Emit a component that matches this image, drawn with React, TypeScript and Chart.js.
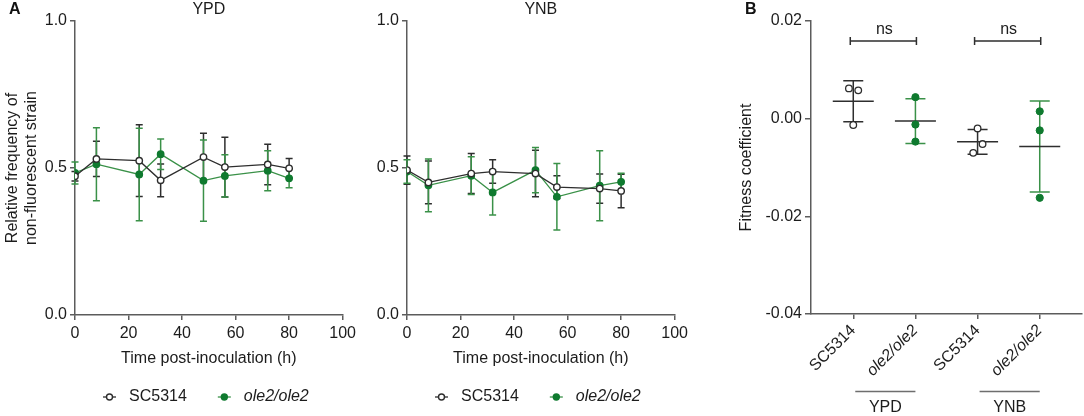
import React, { useEffect, useRef } from 'react';
import { Chart, registerables } from 'chart.js';

Chart.register(...registerables);

const FONT = "'Liberation Sans', Arial, Helvetica, sans-serif";
const TEXT = '#1c1c1c';
const AXIS = '#5c5c5c';
const DARK = '#2e2e2e';
const GREEN = '#3a9148';
const GREEN_DOT = '#0f7a2f';

Chart.defaults.font.family = FONT;
Chart.defaults.color = TEXT;

// Panel A: time course (hours post-inoculation)
const hours = [0, 8, 24, 32, 48, 56, 72, 80];

const ypdWtMean = [0.472, 0.531, 0.525, 0.458, 0.537, 0.503, 0.512, 0.499];
const ypdWtSd = [0.016, 0.06, 0.122, 0.056, 0.081, 0.102, 0.069, 0.033];
const ypdKoMean = [0.483, 0.513, 0.478, 0.547, 0.457, 0.473, 0.491, 0.465];
const ypdKoSd = [0.037, 0.124, 0.157, 0.052, 0.138, 0.072, 0.068, 0.032];

const ynbWtMean = [0.493, 0.451, 0.481, 0.488, 0.481, 0.435, 0.43, 0.422];
const ynbWtSd = [0.048, 0.073, 0.068, 0.04, 0.079, 0.039, 0.05, 0.057];
const ynbKoMean = [0.488, 0.441, 0.474, 0.417, 0.493, 0.402, 0.44, 0.453];
const ynbKoSd = [0.04, 0.09, 0.064, 0.077, 0.077, 0.113, 0.119, 0.029];

// Panel B: fitness coefficients (3 replicates each)
const strainLabels = ['SC5314', 'ole2/ole2', 'SC5314', 'ole2/ole2'];
const mediumLabels = ['YPD', 'YNB'];
const ypdWtFitness = [0.0062, 0.0058, -0.0013];
const ypdKoFitness = [0.0044, -0.0012, -0.0047];
const ynbWtFitness = [-0.002, -0.0052, -0.007];
const ynbKoFitness = [0.0015, -0.0024, -0.0162];
// horizontal scatter of the open circles, in category units
const ypdWtJitter = [-0.07, 0.08, 0];
const ynbWtJitter = [0, 0.08, -0.07];

const mean = (a: number[]) => a.reduce((s, v) => s + v, 0) / a.length;
const sd = (a: number[]) => {
  const m = mean(a);
  return Math.sqrt(a.reduce((s, v) => s + (v - m) ** 2, 0) / (a.length - 1));
};

// error bars for any dataset carrying `errors`
const errorBars = {
  id: 'errorBars',
  beforeDatasetsDraw(chart: any) {
    const { ctx } = chart;
    const yScale = chart.scales.y;
    chart.data.datasets.forEach((ds: any, i: number) => {
      if (!ds.errors) return;
      const meta = chart.getDatasetMeta(i);
      ctx.save();
      ctx.strokeStyle = ds.errorColor;
      ctx.lineWidth = 1.5;
      meta.data.forEach((pt: any, j: number) => {
        const v = ds.data[j].y;
        const e = ds.errors[j];
        const top = yScale.getPixelForValue(v + e);
        const bot = yScale.getPixelForValue(v - e);
        const c = ds.capHalf;
        ctx.beginPath();
        ctx.moveTo(pt.x, top);
        ctx.lineTo(pt.x, bot);
        ctx.moveTo(pt.x - c, top);
        ctx.lineTo(pt.x + c, top);
        ctx.moveTo(pt.x - c, bot);
        ctx.lineTo(pt.x + c, bot);
        ctx.stroke();
      });
      ctx.restore();
    });
  },
};

// heading above the plot and the line+marker legend below it
const timeDecor = {
  id: 'timeDecor',
  afterDraw(chart: any, _args: any, opts: any) {
    const { ctx, chartArea } = chart;
    ctx.save();
    ctx.fillStyle = TEXT;
    ctx.font = `16px ${FONT}`;
    ctx.textAlign = 'center';
    ctx.textBaseline = 'middle';
    ctx.fillText(opts.heading, (chartArea.left + chartArea.right) / 2, 10);

    let x = chartArea.left + 28;
    const y = 397;
    ctx.textAlign = 'left';
    chart.data.datasets.forEach((ds: any) => {
      ctx.strokeStyle = ds.borderColor;
      ctx.lineWidth = 1.3;
      ctx.beginPath();
      ctx.moveTo(x, y);
      ctx.lineTo(x + 13, y);
      ctx.stroke();
      ctx.beginPath();
      ctx.arc(x + 6.5, y, 3, 0, Math.PI * 2);
      ctx.fillStyle = ds.pointBackgroundColor;
      ctx.fill();
      ctx.lineWidth = 1.4;
      ctx.strokeStyle = ds.pointBorderColor;
      ctx.stroke();
      ctx.fillStyle = TEXT;
      ctx.font = `${ds.italic ? 'italic ' : ''}16px ${FONT}`;
      ctx.fillText(ds.label, x + 26, y);
      x += 26 + ctx.measureText(ds.label).width + 31;
    });
    ctx.restore();
  },
};

// "ns" brackets and the medium grouping under the category labels
const fitnessDecor = {
  id: 'fitnessDecor',
  afterDraw(chart: any) {
    const { ctx, chartArea } = chart;
    const xs = chart.scales.x;
    const ys = chart.scales.y;
    ctx.save();
    ctx.font = `16px ${FONT}`;
    ctx.textAlign = 'center';
    ctx.textBaseline = 'middle';
    mediumLabels.forEach((label, g) => {
      const x0 = xs.getPixelForValue(g * 2);
      const x1 = xs.getPixelForValue(g * 2 + 1);
      // bracket
      const by = ys.getPixelForValue(0.0159);
      ctx.strokeStyle = DARK;
      ctx.lineWidth = 1.5;
      ctx.beginPath();
      ctx.moveTo(x0 - 3, by);
      ctx.lineTo(x1 + 1, by);
      ctx.moveTo(x0 - 3, by - 4);
      ctx.lineTo(x0 - 3, by + 4);
      ctx.moveTo(x1 + 1, by - 4);
      ctx.lineTo(x1 + 1, by + 4);
      ctx.stroke();
      ctx.fillStyle = TEXT;
      ctx.fillText('ns', (x0 + x1) / 2, by - 11);
      // group line + medium name
      const gy = chartArea.bottom + 77.5;
      ctx.strokeStyle = '#6e6e6e';
      ctx.beginPath();
      ctx.moveTo(x0 + 2, gy);
      ctx.lineTo(x1, gy);
      ctx.stroke();
      ctx.fillText(label, (x0 + x1) / 2 + 1, gy + 16);
    });
    ctx.restore();
  },
};

const axisBase = {
  border: { color: AXIS, width: 1.5 },
  grid: { drawOnChartArea: false, drawTicks: true, tickLength: 5, color: AXIS, lineWidth: 1.5 },
};

function TimeCourse(props: {
  heading: string;
  wtMean: number[];
  wtSd: number[];
  koMean: number[];
  koSd: number[];
  yTitle: boolean;
}) {
  const ref = useRef<HTMLCanvasElement>(null);
  useEffect(() => {
    if (!ref.current) return;
    const chart = new Chart(ref.current, {
      type: 'line',
      data: {
        datasets: [
          {
            label: 'SC5314',
            data: hours.map((h, i) => ({ x: h, y: props.wtMean[i] })),
            errors: props.wtSd,
            errorColor: DARK,
            capHalf: 3.5,
            borderColor: DARK,
            borderWidth: 1.3,
            pointRadius: 3.2,
            pointBorderWidth: 1.4,
            pointBackgroundColor: '#ffffff',
            pointBorderColor: DARK,
          } as any,
          {
            label: 'ole2/ole2',
            italic: true,
            data: hours.map((h, i) => ({ x: h, y: props.koMean[i] })),
            errors: props.koSd,
            errorColor: GREEN,
            capHalf: 3.5,
            borderColor: GREEN,
            borderWidth: 1.3,
            pointRadius: 3.2,
            pointBorderWidth: 1.4,
            pointBackgroundColor: GREEN_DOT,
            pointBorderColor: GREEN_DOT,
          } as any,
        ],
      },
      options: {
        responsive: false,
        animation: false,
        events: [],
        layout: { padding: { top: 21, right: 16, bottom: 46, left: 0 }, autoPadding: false },
        plugins: {
          legend: { display: false },
          tooltip: { enabled: false },
          timeDecor: { heading: props.heading },
        } as any,
        scales: {
          x: {
            type: 'linear',
            min: 0,
            max: 100,
            ...axisBase,
            ticks: { stepSize: 20, padding: 4, color: TEXT, font: { size: 16 } },
            title: {
              display: true,
              text: 'Time post-inoculation (h)',
              color: TEXT,
              font: { size: 16 },
              padding: { top: 0, bottom: 2 },
            },
            afterFit: (s: any) => {
              s.height = 55;
            },
          },
          y: {
            min: 0,
            max: 1,
            ...axisBase,
            ticks: {
              stepSize: 0.5,
              padding: 3,
              color: TEXT,
              font: { size: 16 },
              callback: (v: any) => Number(v).toFixed(1),
            },
            title: {
              display: props.yTitle,
              text: ['Relative frequency of', 'non-fluorescent strain'],
              color: TEXT,
              font: { size: 16 },
              padding: { top: 3, bottom: 0 },
            },
            afterFit: (s: any) => {
              s.width = 75;
            },
          },
        } as any,
      },
      plugins: [errorBars, timeDecor],
    });
    return () => chart.destroy();
  }, []);
  return <canvas ref={ref} width={360} height={416} />;
}

function Fitness() {
  const ref = useRef<HTMLCanvasElement>(null);
  useEffect(() => {
    if (!ref.current) return;
    const wtPoints = [
      ...ypdWtFitness.map((y, i) => ({ x: 0 + ypdWtJitter[i], y })),
      ...ynbWtFitness.map((y, i) => ({ x: 2 + ynbWtJitter[i], y })),
    ];
    const koPoints = [
      ...ypdKoFitness.map((y) => ({ x: 1, y })),
      ...ynbKoFitness.map((y) => ({ x: 3, y })),
    ];
    const chart = new Chart(ref.current, {
      type: 'scatter',
      data: {
        datasets: [
          {
            label: 'SC5314',
            data: wtPoints,
            pointRadius: 3.3,
            pointBorderWidth: 1.3,
            pointBackgroundColor: '#ffffff',
            pointBorderColor: DARK,
          },
          {
            label: 'ole2/ole2',
            data: koPoints,
            pointRadius: 3.6,
            pointBorderWidth: 1,
            pointBackgroundColor: GREEN_DOT,
            pointBorderColor: GREEN_DOT,
          },
          {
            label: 'SC5314 mean',
            data: [
              { x: 0, y: mean(ypdWtFitness) },
              { x: 2, y: mean(ynbWtFitness) },
            ],
            errors: [sd(ypdWtFitness), sd(ynbWtFitness)],
            errorColor: DARK,
            capHalf: 10,
            pointStyle: 'line',
            pointRadius: 20.5,
            pointBorderWidth: 1.5,
            pointBorderColor: DARK,
          } as any,
          {
            label: 'ole2/ole2 mean',
            data: [
              { x: 1, y: mean(ypdKoFitness) },
              { x: 3, y: mean(ynbKoFitness) },
            ],
            errors: [sd(ypdKoFitness), sd(ynbKoFitness)],
            errorColor: GREEN,
            capHalf: 10,
            pointStyle: 'line',
            pointRadius: 20.5,
            pointBorderWidth: 1.5,
            pointBorderColor: DARK,
          } as any,
        ],
      },
      options: {
        responsive: false,
        animation: false,
        events: [],
        layout: { padding: { top: 21, right: 2, bottom: 0, left: 0 }, autoPadding: false },
        plugins: {
          legend: { display: false },
          tooltip: { enabled: false },
        },
        scales: {
          x: {
            type: 'linear',
            min: -0.68,
            max: 3.68,
            ...axisBase,
            afterBuildTicks: (s: any) => {
              s.ticks = strainLabels.map((_, i) => ({ value: i }));
            },
            ticks: {
              autoSkip: false,
              minRotation: 45,
              maxRotation: 45,
              padding: 2,
              color: TEXT,
              font: (c: any) => ({
                size: 16,
                style: c.tick && c.tick.value % 2 === 1 ? 'italic' : 'normal',
              }),
              callback: (v: any) => strainLabels[v],
            },
            afterFit: (s: any) => {
              s.height = 102;
            },
          },
          y: {
            min: -0.04,
            max: 0.02,
            ...axisBase,
            grid: { ...axisBase.grid, tickLength: 6 },
            ticks: {
              stepSize: 0.02,
              padding: 3,
              color: TEXT,
              font: { size: 16 },
              callback: (v: any) => (Math.abs(v) < 1e-9 ? '0.00' : Number(v).toFixed(2)),
            },
            title: {
              display: true,
              text: 'Fitness coefficient',
              color: TEXT,
              font: { size: 16 },
              padding: { top: 37, bottom: 0 },
            },
            afterFit: (s: any) => {
              s.width = 111;
            },
          },
        } as any,
      },
      plugins: [errorBars, fitnessDecor],
    });
    return () => chart.destroy();
  }, []);
  return <canvas ref={ref} width={384} height={416} />;
}

const panelLetter: React.CSSProperties = {
  position: 'absolute',
  top: 1,
  font: `bold 16px ${FONT}`,
  lineHeight: '16px',
  color: '#111',
};

export default function App() {
  return (
    <div
      style={{
        position: 'fixed',
        left: 0,
        top: 0,
        width: 1084,
        height: 416,
        background: '#ffffff',
        overflow: 'hidden',
      }}
    >
      <div style={{ position: 'absolute', left: 0, top: 0 }}>
        <TimeCourse
          heading="YPD"
          wtMean={ypdWtMean}
          wtSd={ypdWtSd}
          koMean={ypdKoMean}
          koSd={ypdKoSd}
          yTitle={true}
        />
      </div>
      <div style={{ position: 'absolute', left: 332, top: 0 }}>
        <TimeCourse
          heading="YNB"
          wtMean={ynbWtMean}
          wtSd={ynbWtSd}
          koMean={ynbKoMean}
          koSd={ynbKoSd}
          yTitle={false}
        />
      </div>
      <div style={{ position: 'absolute', left: 700, top: 0 }}>
        <Fitness />
      </div>
      <div style={{ ...panelLetter, left: 9 }}>A</div>
      <div style={{ ...panelLetter, left: 745 }}>B</div>
    </div>
  );
}
